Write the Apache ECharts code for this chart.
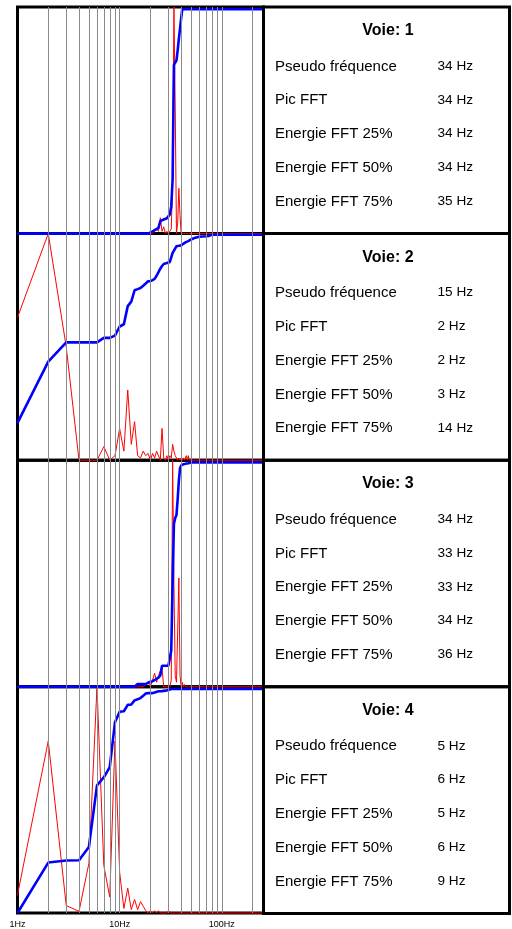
<!DOCTYPE html>
<html><head><meta charset="utf-8">
<script src="https://cdn.jsdelivr.net/npm/echarts@6/dist/echarts.min.js"></script>
<style>html,body{margin:0;padding:0;background:#fff}#c{width:512px;height:929px}</style>
</head><body><div id="c"></div>
<script>
// Frequencies (Hz) of the spectrum points
const freqHz = [1,2,3,4,5,6,7,8,9,10,11,12,13,14,15,16,17,18,19,20,21,22,23,24,25,26,27,28,29,30,
  31,32,33,34,35,36,37,38,39,40,41,42,43,44,45,46,47,48,49,50,55,60,70,75,80,100,150,200,256];

// Channel 1: normalised FFT (red) and cumulated energy (blue)
const fftCh1 = [0,0,0,0,0,0,0,0,0,0, 0,0,0,0,0,0,0,0,0,0,
  0,0.01,0.02,0.01,0.07,0.01,0.03,0,0.01,0, 0,0.02,0.23,1,0.55,0,0.05,0.2,0.08,0,
  0,0,0,0,0,0,0,0,0,0, 0,0,0,0,0,0,0,0,0];
const cumCh1 = [0,0,0,0,0,0,0,0,0,0, 0,0,0,0,0,0,0,0,0,0.005,
  0.01,0.015,0.02,0.025,0.055,0.06,0.062,0.065,0.068,0.07, 0.085,0.12,0.24,0.745,0.755,0.765,0.81,0.86,0.905,0.95,
  0.99,0.99,0.99,0.99,0.99,0.99,0.99,0.99,0.99,0.99, 0.99,0.99,0.99,0.99,0.99,0.99,0.99,0.99,0.99];

// Channel 2
const fftCh2 = [0.63,1,0.5,0,0,0,0.06,0,0.02,0.14, 0.04,0.31,0.07,0.17,0.02,0.01,0.04,0.02,0.03,0,
  0.03,0.01,0.04,0.04,0,0.14,0.01,0,0.02,0, 0.02,0.01,0.07,0.04,0.02,0.02,0,0.01,0,0.01,
  0,0.01,0,0,0.02,0,0.02,0,0,0, 0,0,0,0,0,0,0,0,0];
const cumCh2 = [0.165,0.435,0.52,0.52,0.52,0.52,0.54,0.54,0.55,0.59, 0.60,0.68,0.70,0.75,0.755,0.76,0.77,0.78,0.79,0.79,
  0.795,0.80,0.814,0.83,0.845,0.857,0.866,0.868,0.87,0.872, 0.875,0.88,0.915,0.925,0.935,0.944,0.945,0.946,0.947,0.948,
  0.95,0.955,0.96,0.961,0.963,0.965,0.967,0.969,0.972,0.974, 0.982,0.986,0.988,0.99,0.995,0.995,0.995,0.995,0.995];

// Channel 3
const fftCh3 = [0,0,0,0,0,0,0,0,0,0, 0,0,0,0,0,0,0,0.01,0.02,0,
  0.03,0.06,0.02,0.05,0.07,0.08,0,0,0,0, 0,0.03,1,0.45,0.05,0.02,0.25,0.48,0.05,0,
  0.02,0,0.01,0,0,0,0,0,0,0, 0,0,0,0,0,0,0,0,0];
const cumCh3 = [0,0,0,0,0,0,0,0,0,0, 0,0,0,0,0.012,0.012,0.012,0.012,0.018,0.022,
  0.025,0.03,0.035,0.04,0.05,0.093,0.093,0.093,0.093,0.093, 0.093,0.16,0.46,0.72,0.745,0.758,0.83,0.91,0.965,0.977,
  0.98,0.982,0.983,0.984,0.985,0.986,0.987,0.988,0.99,0.99, 0.99,0.99,0.99,0.99,0.99,0.99,0.99,0.99,0.99];

// Channel 4
const fftCh4 = [0.08,0.76,0.033,0.007,0.22,1,0.21,0.07,0.76,0.18, 0.02,0.11,0.015,0.06,0.015,0.05,0.03,0.01,0,0.01,
  0,0.01,0,0.01,0,0,0,0,0,0.01, 0.01,0,0,0,0,0,0,0,0,0,
  0,0,0,0,0,0,0,0,0,0, 0,0,0,0,0,0,0,0,0];
const cumCh4 = [0,0.223,0.232,0.233,0.292,0.564,0.60,0.645,0.843,0.89, 0.892,0.92,0.922,0.94,0.945,0.95,0.96,0.97,0.972,0.972,
  0.972,0.975,0.98,0.98,0.981,0.981,0.982,0.983,0.984,0.986, 0.99,0.99,0.99,0.99,0.99,0.99,0.99,0.99,0.99,0.99,
  0.99,0.99,0.99,0.99,0.99,0.99,0.99,0.99,0.99,0.99, 0.99,0.99,0.99,0.99,0.99,0.99,0.99,0.99,0.99];

// Table texts
const channelTitles = ['Voie: 1','Voie: 2','Voie: 3','Voie: 4'];
const rowLabels = ['Pseudo fréquence','Pic FFT','Energie FFT 25%','Energie FFT 50%','Energie FFT 75%'];
const valuesCh1 = [34,34,34,34,35];
const valuesCh2 = [15,2,2,3,14];
const valuesCh3 = [34,33,33,34,36];
const valuesCh4 = [5,6,5,6,9];

// Vertical log grid lines and axis ticks
const gridFreqs = [2,3,4,5,6,7,8,9,10,20,30,40,50,60,70,80,90,100,200];
const freqMin = 1, freqMax = 256;

const ffts = [fftCh1,fftCh2,fftCh3,fftCh4];
const cums = [cumCh1,cumCh2,cumCh3,cumCh4];
const vals = [valuesCh1,valuesCh2,valuesCh3,valuesCh4];

const L = 17.5, W = 246, T0 = 7, H = 226.6, BOXR = 509.5;
const FONT = '"Liberation Sans", Arial, Helvetica, sans-serif';
const grids = [], xAxes = [], yAxes = [], series = [], graphics = [];

for (let k = 0; k < 4; k++) {
  const top = T0 + k * H;
  grids.push({left: L, top: top, width: W, height: H, show: true,
    borderColor: '#000', borderWidth: 3, backgroundColor: 'transparent', containLabel: false});
  xAxes.push({gridIndex: k, type: 'log', logBase: 10, min: freqMin, max: freqMax,
    axisLine: {show: false}, axisTick: {show: false}, splitLine: {show: false},
    axisLabel: {show: k === 3, fontSize: 9, color: '#000', margin: 7, fontFamily: FONT,
      showMaxLabel: false,
      formatter: function (v) {
        const lg = Math.log10(v);
        return Math.abs(lg - Math.round(lg)) < 1e-6 ? Math.round(v) + 'Hz' : '';
      }}});
  yAxes.push({gridIndex: k, type: 'value', min: 0, max: 1, show: false});
  series.push({type: 'line', xAxisIndex: k, yAxisIndex: k, data: [], z: 1, silent: true,
    markLine: {silent: true, symbol: ['none','none'], animation: false,
      label: {show: false}, lineStyle: {color: '#8a8a8a', width: 1, type: 'solid'},
      emphasis: {disabled: true},
      data: gridFreqs.map(f => ({xAxis: f}))}});
  series.push({type: 'line', xAxisIndex: k, yAxisIndex: k, z: 3, clip: false,
    symbol: 'none', silent: true,
    lineStyle: {color: '#ff0000', width: 1},
    data: freqHz.map((f, i) => [f, ffts[k][i]])});
  series.push({type: 'line', xAxisIndex: k, yAxisIndex: k, z: 4, clip: false,
    symbol: 'none', silent: true,
    lineStyle: {color: '#0000ff', width: 2.6},
    data: freqHz.map((f, i) => [f, cums[k][i]])});

  graphics.push({type: 'rect', z: 10,
    shape: {x: L + W, y: top, width: BOXR - (L + W), height: H},
    style: {fill: 'none', stroke: '#000', lineWidth: 3}});
  graphics.push({type: 'text', z: 10, x: (L + W + BOXR) / 2 + 1.5, y: top + 23.5,
    style: {text: channelTitles[k], fill: '#000', font: 'bold 16px ' + FONT,
      align: 'center', verticalAlign: 'middle', textAlign: 'center', textVerticalAlign: 'middle'}});
  for (let r = 0; r < rowLabels.length; r++) {
    const y = top + 59.5 + r * 33.8;
    graphics.push({type: 'text', z: 10, x: 275, y: y,
      style: {text: rowLabels[r], fill: '#000', font: '15px ' + FONT,
        align: 'left', verticalAlign: 'middle', textAlign: 'left', textVerticalAlign: 'middle'}});
    graphics.push({type: 'text', z: 10, x: 437.5, y: y - 0.5,
      style: {text: vals[k][r] + ' Hz', fill: '#000', font: '13.6px ' + FONT,
        align: 'left', verticalAlign: 'middle', textAlign: 'left', textVerticalAlign: 'middle'}});
  }
}

const chart = echarts.init(document.getElementById('c'), null, {renderer: 'canvas'});
chart.setOption({
  animation: false,
  backgroundColor: '#fff',
  grid: grids, xAxis: xAxes, yAxis: yAxes, series: series,
  graphic: graphics
});
</script></body></html>
